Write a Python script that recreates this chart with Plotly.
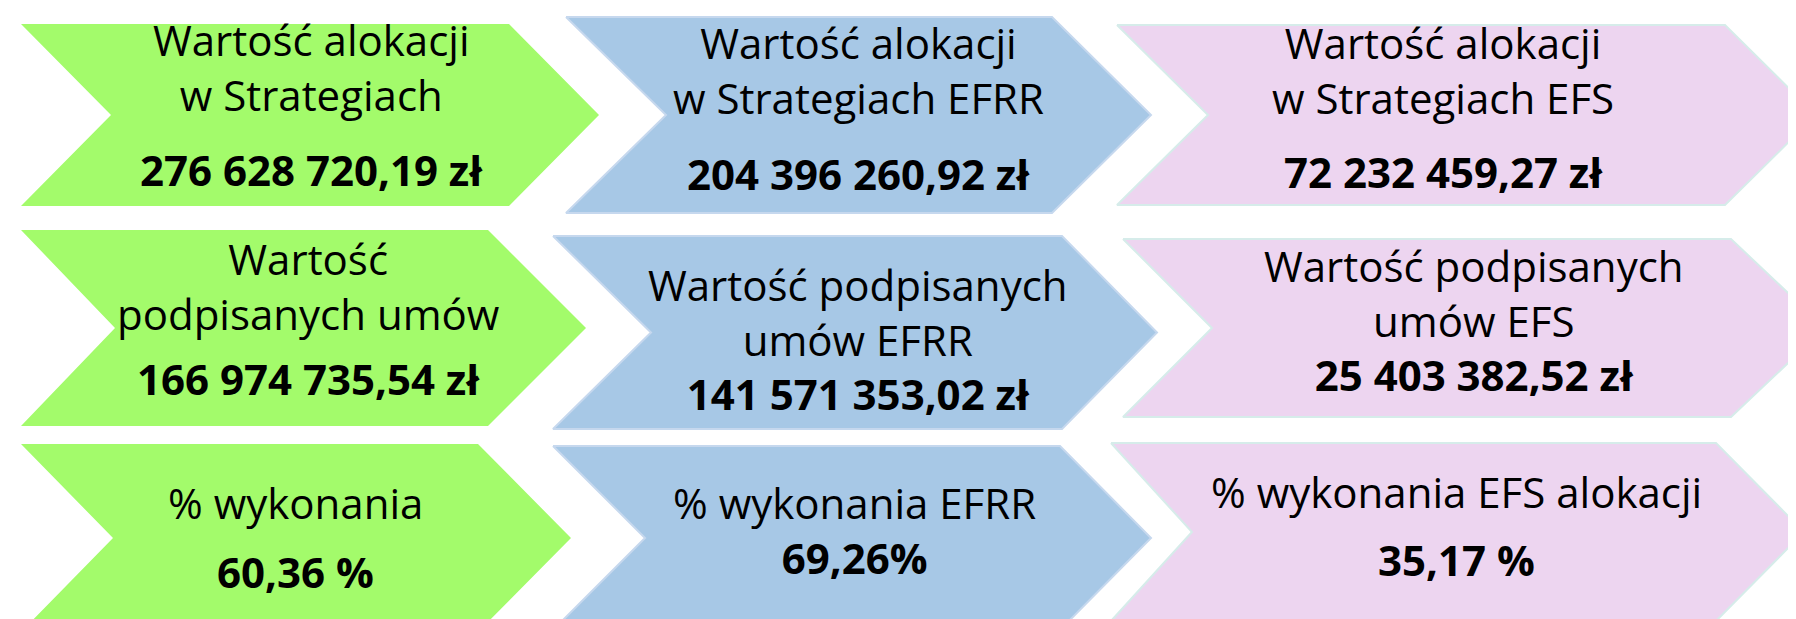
import plotly.graph_objects as go

# ---------------- data ----------------
funds = ["Ogółem", "EFRR", "EFS"]
titles_alloc = ["Wartość alokacji<br>w Strategiach",
                "Wartość alokacji<br>w Strategiach EFRR",
                "Wartość alokacji<br>w Strategiach EFS"]
titles_signed = ["Wartość<br>podpisanych umów",
                 "Wartość podpisanych<br>umów EFRR",
                 "Wartość podpisanych<br>umów EFS"]
titles_pct = ["% wykonania",
              "% wykonania EFRR",
              "% wykonania EFS alokacji"]
alloc_values = [276628720.19, 204396260.92, 72232459.27]
signed_values = [166974735.54, 141571353.02, 25403382.52]
pct_values = [60.36, 69.26, 35.17]
pct_suffix = [" %", "%", " %"]

# ---------------- styles / geometry ----------------
W, H = 1796, 619
fills = ["#A3FB6B", "#A7C8E6", "#EDD5F0"]
borders = ["#A3FB6B", "#C6D8EE", "#D6ECEA"]
FONT = "Open Sans"
FSIZE = 42
YSHIFT = -7

# chevron geometry per (row, col): left, notch, corner, tip, top, bottom
geom = [
    [(13, 103, 501, 591, 16, 198), (558, 658, 1044, 1143, 9, 205), (1109, 1200, 1717, 1808, 17, 197)],
    [(13, 107, 480, 578, 222, 418), (545, 643, 1054, 1149, 228, 421), (1115, 1204, 1723, 1817, 231, 409)],
    [(13, 105, 470, 563, 436, 624), (545, 637, 1052, 1143, 438, 622), (1103, 1184, 1708, 1796, 435, 613)],
]
# text centre x and line centre y per cell
text_x = [[303, 850, 1435], [300, 850, 1466], [287, 846, 1448]]
title_y = [
    [[40, 92], [41, 97], [41, 97]],
    [[261, 309], [288, 339], [266, 319]],
    [[501], [501], [490]],
]
value_y = [[168, 172, 170], [377, 388, 372], [570, 556, 558]]


def fmt_pln(v):
    s = f"{v:,.2f}".replace(",", " ").replace(".", ",")
    return s + " zł"


def fmt_pct(v, suf):
    return f"{v:.2f}".replace(".", ",") + suf


rows_titles = [titles_alloc, titles_signed, titles_pct]
rows_values = [[fmt_pln(v) for v in alloc_values],
               [fmt_pln(v) for v in signed_values],
               [fmt_pct(v, s) for v, s in zip(pct_values, pct_suffix)]]

fig = go.Figure()
annotations = []
for r in range(3):
    for c in range(3):
        L, N, C, P, T, B = geom[r][c]
        M = (T + B) / 2
        xs = [L, C, P, C, L, N, L]
        ys = [T, T, M, B, B, M, T]
        fig.add_trace(go.Scatter(
            x=xs, y=ys, mode="lines", fill="toself",
            fillcolor=fills[c],
            line=dict(color=borders[c], width=2 if c > 0 else 0),
            hoverinfo="skip", showlegend=False,
        ))
        lines = rows_titles[r][c].split("<br>") + ["<b>" + rows_values[r][c] + "</b>"]
        ys_l = title_y[r][c] + [value_y[r][c]]
        # group closely spaced lines into one multi-line text block
        blocks = [[0]]
        for i in range(1, len(lines)):
            if ys_l[i] - ys_l[i - 1] < 60:
                blocks[-1].append(i)
            else:
                blocks.append([i])
        for blk in blocks:
            txt = "<br>".join(lines[i] for i in blk)
            yy = sum(ys_l[i] for i in blk) / len(blk)
            annotations.append(dict(
                x=text_x[r][c], y=yy + YSHIFT, text=txt, showarrow=False,
                xref="x", yref="y", xanchor="center", yanchor="middle",
                align="center",
                font=dict(family=FONT, size=FSIZE, color="#000000"),
            ))

fig.update_layout(
    width=W, height=H,
    margin=dict(l=0, r=0, t=0, b=0),
    paper_bgcolor="#FFFFFF", plot_bgcolor="#FFFFFF",
    xaxis=dict(range=[0, W], visible=False, fixedrange=True),
    yaxis=dict(range=[H, 0], visible=False, fixedrange=True),
    annotations=annotations,
    showlegend=False,
)

fig.write_html("out.html", config={"displayModeBar": False})
